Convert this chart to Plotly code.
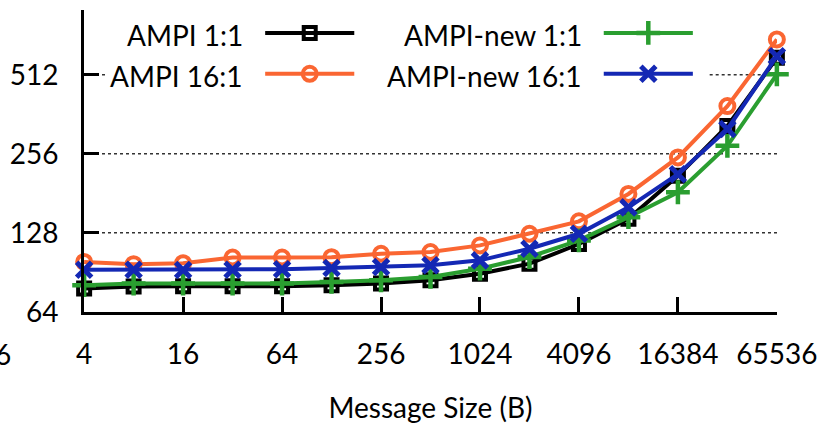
import math
import plotly.graph_objects as go

# ---------------- data ----------------
msg_size = [4, 8, 16, 32, 64, 128, 256, 512, 1024, 2048, 4096, 8192, 16384, 32768, 65536]
ampi_1_1 = [78.5, 79.9, 80, 80, 80, 80.8, 82, 84.4, 89.4, 97.6, 116, 144.7, 211, 327, 594]
ampi_16_1 = [99.1, 97.2, 98, 103, 103, 103.3, 106.5, 108.1, 114.6, 126.9, 141.5, 180, 248, 389, 698]
ampi_new_1_1 = [80.8, 82, 82, 82, 82, 83.2, 84.4, 86.9, 93.4, 103.5, 119.7, 146.8, 182.7, 274.6, 514]
ampi_new_16_1 = [92.6, 92.6, 92.3, 92.6, 93, 94, 94.8, 96.2, 100.5, 111.3, 126.9, 160, 214, 318, 603]

series_names = ["AMPI 1:1", "AMPI 16:1", "AMPI-new 1:1", "AMPI-new 16:1"]
x_ticks = [4, 16, 64, 256, 1024, 4096, 16384, 65536]
y_ticks = [64, 128, 256, 512]

# ---------------- styles ----------------
FONT = "Lato"
BLACK = "#000000"
ORANGE = "#FA6632"
GREEN = "#2A9E30"
BLUE = "#1428B4"

Y_RANGE = [math.log10(64) - 0.0008, 2.9562]
X_RANGE = [math.log10(4) - 0.0008, math.log10(65536) + 0.0008]

styles = [
    dict(color=BLACK, symbol="square-open", size=12, mlw=4),
    dict(color=ORANGE, symbol="circle-open", size=14, mlw=4),
    dict(color=GREEN, symbol="cross-thin-open", size=17, mlw=4.5),
    dict(color=BLUE, symbol="x-thin-open", size=15, mlw=5),
]
all_series = [ampi_1_1, ampi_16_1, ampi_new_1_1, ampi_new_16_1]

fig = go.Figure()
for name, ys, st in zip(series_names, all_series, styles):
    fig.add_trace(go.Scatter(
        x=msg_size, y=ys, name=name, mode="lines+markers",
        line=dict(color=st["color"], width=4),
        marker=dict(symbol=st["symbol"], size=st["size"],
                    color=st["color"], line=dict(color=st["color"], width=st["mlw"])),
        cliponaxis=False, showlegend=False,
    ))

# ---------------- custom gnuplot-style key (pixel overlay axes) ----------------
key_rows = [33, 74]
key_cols = [(243, 263, 308, 353), (585, 605, 650, 695)]
key_layout = [(0, 0), (1, 0), (0, 1), (1, 1)]  # (row, col) for each series
for name, st, (r, c) in zip(series_names, styles, key_layout):
    tx, x0, xm, x1 = key_cols[c]
    yy = key_rows[r]
    fig.add_trace(go.Scatter(
        x=[x0, x1], y=[yy, yy], mode="lines",
        xaxis="x2", yaxis="y2", showlegend=False, hoverinfo="skip",
        line=dict(color=st["color"], width=4),
    ))
    fig.add_trace(go.Scatter(
        x=[xm], y=[yy], mode="markers",
        xaxis="x2", yaxis="y2", showlegend=False, hoverinfo="skip",
        marker=dict(symbol=st["symbol"], size=st["size"], color=st["color"],
                    line=dict(color=st["color"], width=st["mlw"])),
    ))
    fig.add_annotation(x=tx, y=yy + 2, xref="x2", yref="y2", text=name,
                       showarrow=False, xanchor="right", yanchor="middle",
                       font=dict(family=FONT, size=28, color=BLACK))

# dotted grid lines (interrupted behind the key box)
key_box = (22 / 700, 632 / 700)
for v in y_ticks[1:]:
    yd = (math.log10(v) - Y_RANGE[0]) / (Y_RANGE[1] - Y_RANGE[0])
    segs = [(0, 1)]
    if yd > (313 - 96) / 303:
        segs = [(0, key_box[0]), (key_box[1], 1)]
    for a, b in segs:
        fig.add_shape(type="line", xref="x domain", yref="y domain",
                      x0=a, x1=b, y0=yd, y1=yd, layer="below",
                      line=dict(color="#333333", width=1.5, dash="dot"))

# clipped label from neighbouring panel
fig.add_annotation(x=(8 - 80) / 700, y=(313 - 355) / 303, xref="paper", yref="paper",
                   text="65536", showarrow=False, xanchor="right", yanchor="middle",
                   font=dict(family=FONT, size=28, color=BLACK))

fig.update_layout(
    width=827, height=429,
    margin=dict(l=80, r=47, t=10, b=116),
    paper_bgcolor="white", plot_bgcolor="white",
    font=dict(family=FONT, size=28, color=BLACK),
    showlegend=False,
    xaxis=dict(
        type="log", range=X_RANGE,
        tickvals=x_ticks, ticktext=[str(v) for v in x_ticks],
        ticks="inside", ticklen=15, tickwidth=3, tickcolor=BLACK,
        showline=True, linewidth=3, linecolor=BLACK, mirror=False,
        showgrid=False, zeroline=False, ticklabelstandoff=15,
        tickfont=dict(family=FONT, size=28, color=BLACK),
        title=dict(text="Message Size (B)", standoff=30,
                   font=dict(family=FONT, size=28, color=BLACK)),
    ),
    yaxis=dict(
        type="log", range=Y_RANGE,
        tickvals=y_ticks, ticktext=[str(v) for v in y_ticks],
        ticks="inside", ticklen=15, tickwidth=3, tickcolor=BLACK,
        showline=True, linewidth=3, linecolor=BLACK, mirror=False,
        showgrid=False, zeroline=False, ticklabelstandoff=17,
        tickfont=dict(family=FONT, size=28, color=BLACK),
    ),
    xaxis2=dict(overlaying="x", anchor="y2", range=[80, 780], visible=False),
    yaxis2=dict(overlaying="y", anchor="x2", range=[313, 10], visible=False),
)

fig.write_html("out.html")
